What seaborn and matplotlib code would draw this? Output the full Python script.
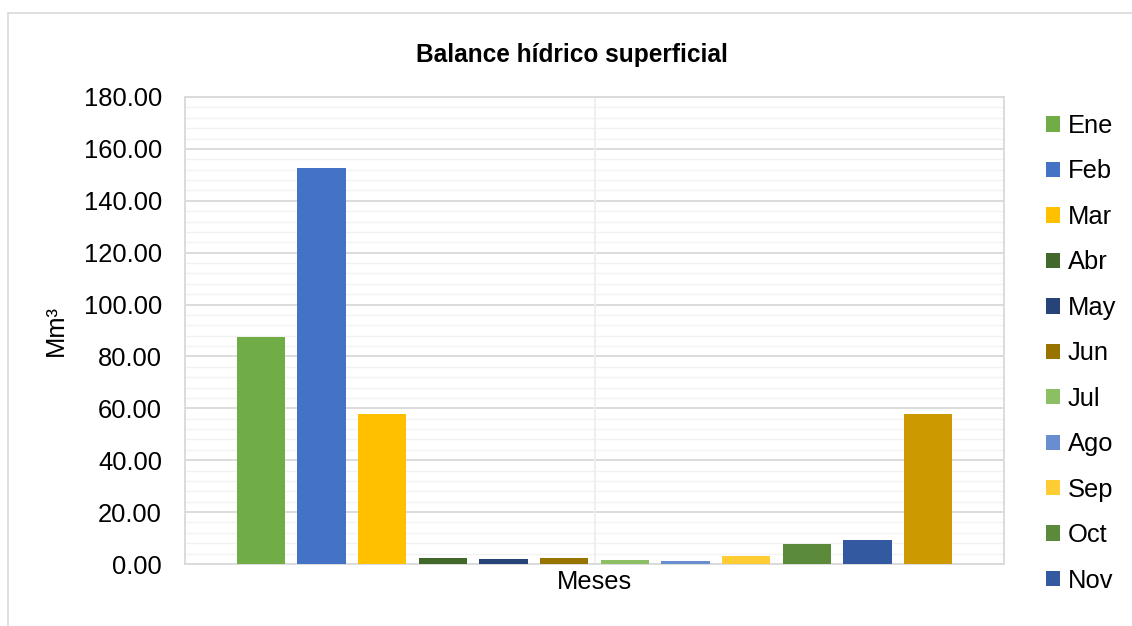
import pandas as pd
import seaborn as sns
import matplotlib.pyplot as plt
from matplotlib.patches import Patch, Rectangle
from matplotlib.ticker import MultipleLocator, FormatStrFormatter

# Datos del balance hídrico por mes (Mm3)
meses = ['Ene', 'Feb', 'Mar', 'Abr', 'May', 'Jun', 'Jul', 'Ago', 'Sep', 'Oct', 'Nov', 'Dic']
valores = [87.5, 152.7, 57.8, 2.3, 1.9, 2.3, 1.5, 1.2, 3.1, 7.7, 9.3, 57.8]
colores = ['#70AD47', '#4472C4', '#FFC000', '#43682B', '#264478', '#997300',
           '#8CBE64', '#698ED0', '#FFCD33', '#5B8B3A', '#335AA0', '#CC9A00']
categoria = 'Meses'

df = pd.DataFrame({'Categoria': [categoria] * len(meses), 'Mes': meses, 'Valor': valores})

sns.set_style('white')
plt.rcParams['font.family'] = ['Liberation Sans', 'DejaVu Sans']
plt.rcParams['text.color'] = 'black'
plt.rcParams['axes.labelcolor'] = 'black'
plt.rcParams['xtick.color'] = 'black'
plt.rcParams['ytick.color'] = 'black'
fs = 18.4

fig = plt.figure(figsize=(11.32, 6.26), dpi=100)
ax = fig.add_axes([185 / 1132, 1 - 564 / 626, (1004 - 185) / 1132, (564 - 97) / 626])

# Marco exterior del gráfico
fig.patches.append(Rectangle((8 / 1132, -0.1), 1.2, 0.1 + 1 - 13 / 626, transform=fig.transFigure,
                             fill=False, edgecolor='#D9D9D9', linewidth=1.2, zorder=0))

sns.barplot(data=df, x='Categoria', y='Valor', hue='Mes', palette=colores,
            width=0.889, gap=0.2, legend=False, ax=ax, zorder=3, saturation=1,
            linewidth=0, edgecolor='none')

ax.set_xlim(-0.5, 0.5)
ax.set_ylim(0, 180)
ax.yaxis.set_major_locator(MultipleLocator(20))
ax.yaxis.set_minor_locator(MultipleLocator(4))
ax.yaxis.set_major_formatter(FormatStrFormatter('%.2f'))
ax.grid(which='major', axis='y', color='#D9D9D9', linewidth=1.3, zorder=1)
ax.grid(which='minor', axis='y', color='#F2F2F2', linewidth=1.0, zorder=0)
ax.axvline(0, color='#EEEEEE', linewidth=1.3, zorder=1)
ax.set_axisbelow(True)
for s in ax.spines.values():
    s.set_color('#D9D9D9')
    s.set_linewidth(1.3)

ax.tick_params(axis='y', which='both', length=0, pad=16.5, labelsize=fs)
ax.tick_params(axis='x', length=0, pad=4.5, labelsize=fs)
ax.set_xlabel('')
ax.set_ylabel('Mm³', fontsize=fs)
ax.yaxis.set_label_coords(-0.143, 0.5)

fig.text(572 / 1132, 1 - 62 / 626, 'Balance hídrico superficial', ha='center', va='baseline',
         fontsize=fs * 0.96, fontweight='bold')

# Leyenda (solo caben hasta Nov)
handles = [Patch(facecolor=c, edgecolor='none', label=m) for m, c in zip(meses, colores)][:11]
fig.legend(handles=handles, loc='upper left', bbox_to_anchor=(1046 / 1132, 1 - 114 / 626),
           frameon=False, fontsize=fs, handlelength=0.55, handleheight=0.55,
           handletextpad=0.3, labelspacing=0.84, borderaxespad=0, borderpad=0)

plt.savefig('out.png', dpi=100)
